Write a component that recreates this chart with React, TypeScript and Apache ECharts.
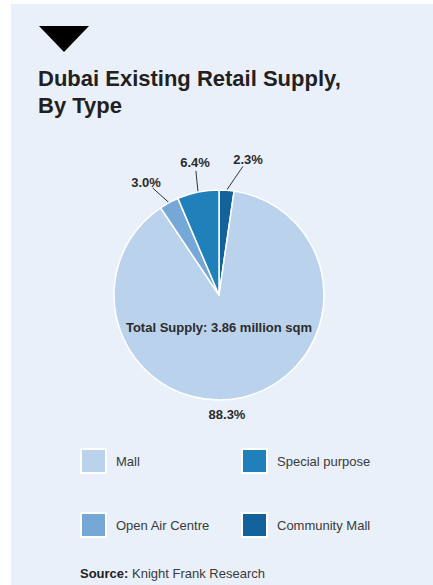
import React, { useEffect, useRef } from "react";
import * as echarts from "echarts";

const titleLines = ["Dubai Existing Retail Supply,", "By Type"];
const categories = ["Community Mall", "Mall", "Open Air Centre", "Special purpose"];
const shares = [2.3, 88.3, 3.0, 6.4];
const colors = ["#13629B", "#BBD2EC", "#75A7D7", "#1F80BA"];
const legendCol1 = ["Mall", "Open Air Centre"];
const legendCol2 = ["Special purpose", "Community Mall"];
const centerText = "Total Supply: 3.86 million sqm";
const sourceBold = "Source:";
const sourceText = " Knight Frank Research";

// label anchor positions (label centres) per category
const labelPos: Record<string, [number, number]> = {
  "Community Mall": [248, 159],
  Mall: [227, 414],
  "Open Air Centre": [146, 182],
  "Special purpose": [195, 162],
};

const FONT = "'Liberation Sans', Arial, Helvetica, sans-serif";

export default function App() {
  const ref = useRef<HTMLDivElement>(null);
  useEffect(() => {
    if (!ref.current) return;
    const chart = echarts.init(ref.current, undefined, { renderer: "svg" });
    const legendBase = {
      orient: "vertical" as const,
      top: 448,
      padding: 0,
      icon: "rect",
      itemWidth: 25,
      itemHeight: 24,
      itemGap: 38,
      selectedMode: false,
      textStyle: {
        fontFamily: FONT,
        fontSize: 13,
        color: "#3a3a3a",
        padding: [0, 0, 0, 5],
      },
    };
    chart.setOption({
      animation: false,
      color: colors,
      graphic: [
        {
          type: "rect",
          z: -10,
          silent: true,
          shape: { x: 11, y: 4, width: 422, height: 581 },
          style: { fill: "#E9F0F9" },
        },
        {
          type: "polygon",
          silent: true,
          shape: { points: [[39, 26], [89, 26], [64, 52]] },
          style: { fill: "#000000" },
        },
        {
          type: "text",
          x: 38,
          y: 78,
          style: {
            text: titleLines[0],
            font: `bold 22px ${FONT}`,
            fill: "#231F20",
            verticalAlign: "middle",
          },
        },
        {
          type: "text",
          x: 38,
          y: 105,
          style: {
            text: titleLines[1],
            font: `bold 22px ${FONT}`,
            fill: "#231F20",
            verticalAlign: "middle",
          },
        },
        {
          type: "text",
          x: 219,
          y: 327,
          z: 100,
          style: {
            text: centerText,
            font: `bold 13px ${FONT}`,
            fill: "#2b2b2b",
            align: "center",
            verticalAlign: "middle",
          },
        },
        {
          type: "text",
          x: 80,
          y: 573,
          style: {
            text: `{b|${sourceBold}}{r|${sourceText}}`,
            verticalAlign: "middle",
            rich: {
              b: { fontFamily: FONT, fontSize: 13, fontWeight: "bold", fill: "#231F20", color: "#231F20" },
              r: { fontFamily: FONT, fontSize: 13, fill: "#3a3a3a", color: "#3a3a3a" },
            },
          },
        },
      ],
      legend: [
        { ...legendBase, left: 80, data: legendCol1 },
        { ...legendBase, left: 241, data: legendCol2 },
      ],
      series: [
        {
          type: "pie",
          center: [219, 295],
          radius: [0, 105],
          startAngle: 90,
          clockwise: true,
          avoidLabelOverlap: false,
          itemStyle: { borderColor: "#ffffff", borderWidth: 1.5 },
          label: {
            show: true,
            position: "outside",
            formatter: (p: any) => `${p.value.toFixed(1)}%`,
            fontFamily: FONT,
            fontSize: 13,
            fontWeight: "bold",
            color: "#2b2b2b",
          },
          labelLine: {
            show: true,
            length: 10,
            length2: 8,
            lineStyle: { color: "#333333", width: 1 },
          },
          labelLayout: (params: any) => {
            const name = categories[params.dataIndex];
            const p = labelPos[name];
            const out: any = { x: p[0], y: p[1], align: "center", verticalAlign: "middle" };
            const pts = params.labelLinePoints;
            if (pts && pts.length && name !== "Mall") {
              const s = pts[0];
              const dx = s[0] - p[0];
              const dy = s[1] - p[1];
              const len = Math.sqrt(dx * dx + dy * dy) || 1;
              const gap = 9;
              const e = [p[0] + (dx / len) * gap, p[1] + (dy / len) * gap];
              const m = [(s[0] + e[0]) / 2, (s[1] + e[1]) / 2];
              out.labelLinePoints = [[s[0], s[1]], m, e];
            }
            return out;
          },
          emphasis: { disabled: true },
          data: categories.map((name, i) => ({
            name,
            value: shares[i],
            labelLine: name === "Mall" ? { show: false } : undefined,
          })),
        },
      ],
    });
    return () => chart.dispose();
  }, []);
  return (
    <div
      ref={ref}
      style={{ position: "absolute", left: 0, top: 0, width: 433, height: 585 }}
    />
  );
}
